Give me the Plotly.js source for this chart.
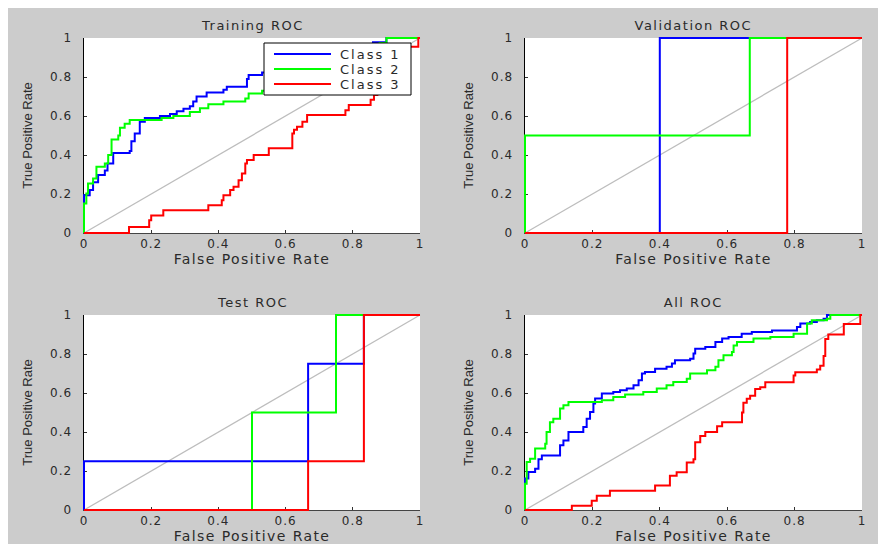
<!DOCTYPE html>
<html>
<head>
<meta charset="utf-8">
<script src="https://cdn.plot.ly/plotly-3.0.1.min.js"></script>
<style>
html,body{margin:0;padding:0;background:#ffffff;}
#chart{position:absolute;left:8px;top:8px;width:870px;height:536px;}
.legendtext{letter-spacing:2px;}
</style>
</head>
<body>
<div id="chart"></div>
<script>
// ---------- data ----------
const classNames = ["Class 1", "Class 2", "Class 3"];
const panelTitles = ["Training ROC", "Validation ROC", "Test ROC", "All ROC"];
const tickVals = [0, 0.2, 0.4, 0.6, 0.8, 1];
const tickText = ["0", "0.2", "0.4", "0.6", "0.8", "1"];
const diagX = [0, 1];
const diagY = [0, 1];

// Training
const trainFpr1 = [0, 0, 0.017, 0.027, 0.042, 0.062, 0.07, 0.087, 0.136, 0.141, 0.151, 0.166, 0.181, 0.226, 0.256, 0.276, 0.296, 0.315, 0.325, 0.335, 0.365, 0.415, 0.425, 0.485, 0.49, 0.53, 0.58, 0.64, 0.7, 0.76, 0.8, 0.84, 0.86, 0.9, 0.95, 1];
const trainTpr1 = [0, 0.194, 0.22, 0.26, 0.297, 0.32, 0.357, 0.41, 0.42, 0.47, 0.51, 0.57, 0.59, 0.6, 0.61, 0.625, 0.637, 0.65, 0.675, 0.7, 0.72, 0.735, 0.75, 0.79, 0.81, 0.823, 0.84, 0.86, 0.88, 0.91, 0.94, 0.96, 0.978, 1, 1, 1];
const trainFpr2 = [0, 0, 0.007, 0.012, 0.027, 0.037, 0.062, 0.072, 0.082, 0.102, 0.107, 0.121, 0.136, 0.231, 0.266, 0.315, 0.345, 0.37, 0.415, 0.48, 0.49, 0.53, 0.6, 0.68, 0.75, 0.82, 0.86, 0.88, 0.9, 1];
const trainTpr2 = [0, 0.151, 0.203, 0.254, 0.28, 0.34, 0.357, 0.4, 0.48, 0.5, 0.54, 0.56, 0.58, 0.59, 0.6, 0.62, 0.64, 0.66, 0.675, 0.69, 0.715, 0.73, 0.75, 0.8, 0.85, 0.9, 0.95, 0.975, 1, 1];
const trainFpr3 = [0, 0.134, 0.194, 0.2, 0.236, 0.37, 0.41, 0.415, 0.435, 0.445, 0.46, 0.47, 0.48, 0.485, 0.505, 0.55, 0.62, 0.625, 0.634, 0.65, 0.664, 0.778, 0.788, 0.853, 0.863, 0.873, 0.88, 0.9, 0.92, 0.94, 0.96, 0.995, 1];
const trainTpr3 = [0, 0.031, 0.065, 0.09, 0.117, 0.142, 0.168, 0.194, 0.22, 0.237, 0.27, 0.305, 0.357, 0.374, 0.4, 0.434, 0.51, 0.53, 0.545, 0.57, 0.605, 0.63, 0.657, 0.683, 0.708, 0.734, 0.76, 0.8, 0.85, 0.9, 0.955, 1, 1];

// Validation
const valFpr1 = [0, 0.4, 0.4, 1];
const valTpr1 = [0, 0, 1, 1];
const valFpr2 = [0, 0, 0.667, 0.667, 1];
const valTpr2 = [0, 0.5, 0.5, 1, 1];
const valFpr3 = [0, 0.778, 0.778, 1];
const valTpr3 = [0, 0, 1, 1];

// Test
const testFpr1 = [0, 0, 0.667, 0.667, 0.833, 0.833, 1];
const testTpr1 = [0, 0.25, 0.25, 0.75, 0.75, 1, 1];
const testFpr2 = [0, 0.5, 0.5, 0.75, 0.75, 1];
const testTpr2 = [0, 0, 0.5, 0.5, 1, 1];
const testFpr3 = [0, 0.667, 0.667, 0.833, 0.833, 1];
const testTpr3 = [0, 0, 0.25, 0.25, 1, 1];

// All
const allFpr1 = [0, 0, 0.01, 0.03, 0.04, 0.05, 0.104, 0.114, 0.129, 0.173, 0.183, 0.193, 0.203, 0.208, 0.228, 0.262, 0.282, 0.302, 0.322, 0.337, 0.347, 0.356, 0.386, 0.42, 0.436, 0.445, 0.49, 0.5, 0.505, 0.535, 0.565, 0.585, 0.604, 0.643, 0.673, 0.733, 0.807, 0.817, 0.846, 0.866, 0.886, 0.896, 0.955];
const allTpr1 = [0, 0.161, 0.195, 0.212, 0.26, 0.28, 0.332, 0.357, 0.4, 0.425, 0.468, 0.503, 0.546, 0.572, 0.597, 0.605, 0.614, 0.623, 0.64, 0.666, 0.7, 0.708, 0.725, 0.734, 0.751, 0.768, 0.776, 0.802, 0.827, 0.836, 0.862, 0.879, 0.887, 0.904, 0.913, 0.921, 0.938, 0.956, 0.964, 0.973, 0.981, 1, 1];
const allFpr2 = [0, 0, 0.005, 0.015, 0.03, 0.06, 0.064, 0.074, 0.084, 0.104, 0.114, 0.129, 0.228, 0.262, 0.297, 0.351, 0.391, 0.42, 0.44, 0.48, 0.49, 0.54, 0.565, 0.574, 0.589, 0.614, 0.619, 0.629, 0.678, 0.728, 0.797, 0.837, 0.851, 0.896, 0.906, 1];
const allTpr2 = [0, 0.135, 0.246, 0.263, 0.315, 0.34, 0.4, 0.45, 0.468, 0.52, 0.537, 0.554, 0.563, 0.58, 0.592, 0.605, 0.623, 0.64, 0.656, 0.673, 0.7, 0.717, 0.734, 0.768, 0.793, 0.81, 0.844, 0.861, 0.879, 0.887, 0.904, 0.956, 0.973, 0.981, 1, 1];
const allFpr3 = [0, 0.139, 0.198, 0.213, 0.252, 0.386, 0.43, 0.45, 0.48, 0.5, 0.505, 0.52, 0.535, 0.57, 0.585, 0.644, 0.648, 0.658, 0.668, 0.683, 0.698, 0.713, 0.797, 0.802, 0.866, 0.876, 0.886, 0.891, 0.9, 0.946, 0.995, 1];
const allTpr3 = [0, 0.022, 0.048, 0.073, 0.099, 0.125, 0.176, 0.193, 0.244, 0.26, 0.347, 0.38, 0.4, 0.43, 0.45, 0.5, 0.55, 0.57, 0.586, 0.62, 0.63, 0.655, 0.69, 0.706, 0.72, 0.74, 0.79, 0.877, 0.9, 0.954, 1, 1];

// ---------- build ----------
const colors = ["#0000ff", "#00ff00", "#ff0000"];
const panels = [
  {xa: "x",  ya: "y",  fpr: [trainFpr1, trainFpr2, trainFpr3], tpr: [trainTpr1, trainTpr2, trainTpr3], legend: true},
  {xa: "x2", ya: "y2", fpr: [valFpr1, valFpr2, valFpr3], tpr: [valTpr1, valTpr2, valTpr3], legend: false},
  {xa: "x3", ya: "y3", fpr: [testFpr1, testFpr2, testFpr3], tpr: [testTpr1, testTpr2, testTpr3], legend: false},
  {xa: "x4", ya: "y4", fpr: [allFpr1, allFpr2, allFpr3], tpr: [allTpr1, allTpr2, allTpr3], legend: false}
];
const traces = [];
panels.forEach(p => {
  traces.push({x: diagX, y: diagY, xaxis: p.xa, yaxis: p.ya, mode: "lines",
    line: {color: "#bdbdbd", width: 1.3}, showlegend: false, hoverinfo: "skip"});
  for (let k = 0; k < 3; k++) {
    traces.push({x: p.fpr[k], y: p.tpr[k], xaxis: p.xa, yaxis: p.ya, mode: "lines",
      name: classNames[k], line: {color: colors[k], width: 2, shape: "hv"},
      showlegend: p.legend});
  }
});

const W = 870, H = 536;
const xdomL = [76 / W, 412 / W];
const xdomR = [517 / W, 854 / W];
const ydomT = [(H - 225) / H, (H - 30) / H];
const ydomB = [(H - 502) / H, (H - 307) / H];

const baseFont = "DejaVu Sans, Liberation Sans, sans-serif";
const tickFont = {family: baseFont, size: 12, color: "#2a2a2a"};
function xax(dom, anchor) {
  return {domain: dom, anchor: anchor, range: [0, 1], fixedrange: true,
    tickvals: tickVals, ticktext: tickText, ticks: "inside", ticklen: 3, tickcolor: "#333",
    tickfont: tickFont, ticklabelstandoff: 0,
    showgrid: false, zeroline: false, showline: true, linecolor: "#444", linewidth: 1, mirror: false,
    layer: "below traces",
    title: {text: "False Positive Rate", standoff: 1,
      font: {family: baseFont, size: 14, color: "#2a2a2a"}}};
}
function yax(dom, anchor) {
  return {domain: dom, anchor: anchor, range: [0, 1], fixedrange: true,
    tickvals: tickVals, ticktext: tickText, ticks: "inside", ticklen: 3, tickcolor: "#333",
    tickfont: tickFont, ticklabelstandoff: 8,
    showgrid: false, zeroline: false, showline: true, linecolor: "#000", linewidth: 1.5, mirror: false,
    layer: "below traces",
    title: {text: "True Positive Rate", standoff: 17,
      font: {family: "Liberation Sans Narrow, Liberation Sans, sans-serif", size: 13, color: "#2a2a2a"}}};
}

const annotations = panelTitles.map((t, i) => {
  const xd = (i % 2 === 0) ? xdomL : xdomR;
  const yd = (i < 2) ? ydomT : ydomB;
  return {text: t, xref: "paper", yref: "paper", x: (xd[0] + xd[1]) / 2, y: yd[1],
    xanchor: "center", yanchor: "bottom", yshift: 3, showarrow: false,
    font: {family: baseFont, size: 13, color: "#2a2a2a"}};
});

// legend box drawn as a paper shape (white with black border)
const legBox = {x0: 256, x1: 403, y0: 35, y1: 87};
const shapes = [{type: "rect", xref: "paper", yref: "paper", layer: "above",
  x0: legBox.x0 / W, x1: legBox.x1 / W, y0: 1 - legBox.y1 / H, y1: 1 - legBox.y0 / H,
  fillcolor: "#ffffff", line: {color: "#000000", width: 1}}];

const layout = {
  width: W, height: H,
  paper_bgcolor: "#cccccc", plot_bgcolor: "#ffffff",
  margin: {l: 0, r: 0, t: 0, b: 0},
  showlegend: true,
  legend: {x: legBox.x0 / W, y: 1 - legBox.y0 / H, xanchor: "left", yanchor: "top",
    bgcolor: "rgba(0,0,0,0)", borderwidth: 0,
    font: {family: baseFont, size: 13, color: "#2a2a2a"},
    tracegroupgap: 0, itemwidth: 66},
  xaxis: xax(xdomL, "y"), yaxis: yax(ydomT, "x"),
  xaxis2: xax(xdomR, "y2"), yaxis2: yax(ydomT, "x2"),
  xaxis3: xax(xdomL, "y3"), yaxis3: yax(ydomB, "x3"),
  xaxis4: xax(xdomR, "y4"), yaxis4: yax(ydomB, "x4"),
  shapes: shapes,
  annotations: annotations
};

Plotly.newPlot("chart", traces, layout, {staticPlot: true, displayModeBar: false}).then(gd => {
  // let edge lines (at 0 and 1) draw at full width, as in the reference
  gd.querySelectorAll(".cartesianlayer [clip-path]").forEach(g => g.removeAttribute("clip-path"));
  // legend: longer line samples, tighter rows (15 px apart, as in the reference)
  const sb = gd.querySelector(".legend .scrollbox");
  if (sb) sb.removeAttribute("clip-path");
  gd.querySelectorAll(".legend .legendlines path").forEach(p => p.setAttribute("d", "M10,0h57"));
  gd.querySelectorAll(".legend g.traces").forEach((g, i) => {
    const m = /translate\(([-\d.]+)/.exec(g.getAttribute("transform") || "");
    const tx = m ? m[1] : "0";
    g.setAttribute("transform", "translate(" + tx + "," + (11 + i * 15) + ")");
  });
  // wider letter spacing like the reference rendering
  gd.querySelectorAll(".xtick text, .ytick text, .x2tick text, .y2tick text, .x3tick text, .y3tick text, .x4tick text, .y4tick text")
    .forEach(t => t.style.letterSpacing = "1px");
  gd.querySelectorAll(".annotation-text").forEach(t => t.style.letterSpacing = "1.5px");
  gd.querySelectorAll(".g-xtitle text, .g-x2title text, .g-x3title text, .g-x4title text")
    .forEach(t => t.style.letterSpacing = "1.4px");
});
</script>
</body>
</html>
